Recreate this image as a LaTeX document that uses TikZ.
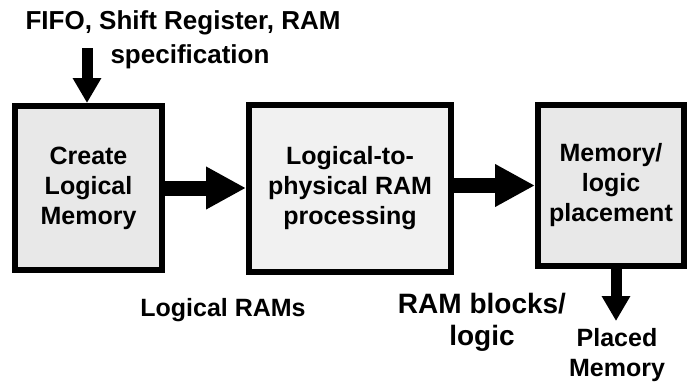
\documentclass[tikz,border=0pt]{standalone}
\usepackage{fontspec}
\setmainfont{Liberation Sans}
\usetikzlibrary{arrows.meta}
\definecolor{boxgray}{HTML}{E8E8E8}
\definecolor{boxlight}{HTML}{F1F1F1}
\begin{document}
\begin{tikzpicture}[x=1pt,y=-1pt,
  blk/.style={draw=black, line width=6pt, fill=#1, inner sep=0pt, align=center,
    font=\fontsize{25}{30}\selectfont\bfseries},
  lbl/.style={inner sep=0pt, align=center, font=\fontsize{25}{30}\selectfont\bfseries},
  biglbl/.style={inner sep=0pt, align=center, font=\fontsize{28}{32}\selectfont\bfseries},
  bigarrow/.style={line width=15pt, -{Triangle[width=40pt,length=40pt]}},
  smallarrow/.style={line width=11pt, -{Triangle[width=27pt,length=25pt]}}]
\useasboundingbox (0,0) rectangle (688,381);

\node[blk=boxgray, minimum width=147pt, minimum height=164pt] (b1) at (88.5,188) {Create\\Logical\\Memory};
\node[blk=boxlight, minimum width=202pt, minimum height=167pt] (b2) at (350,188.5) {Logical-to-\\physical RAM\\processing};
\node[blk=boxgray, minimum width=146pt, minimum height=161pt] (b3) at (611,185.5) {Memory/\\logic\\placement};

\node[lbl, font=\fontsize{26}{30}\selectfont\bfseries] (t1) at (183,23) {FIFO, Shift Register, RAM};
\node[lbl, font=\fontsize{26}{30}\selectfont\bfseries] (t2) at (190,57) {specification};
\node[lbl] (lr) at (223,310) {Logical RAMs};
\node[biglbl] (rb) at (482,322) {RAM blocks/\\logic};
\node[lbl] (pm) at (617,355) {Placed\\Memory};

\coordinate (inTop) at (87,48);
\coordinate (outBot) at (616,321);

\draw[smallarrow] (inTop) -- (inTop |- b1.north);
\draw[bigarrow] (b1.east) -- (b2.west |- b1.east);
\draw[bigarrow] (b2.east |- b3.west) -- (b3.west);
\draw[smallarrow] (outBot |- b3.south) -- (outBot);
\end{tikzpicture}
\end{document}
